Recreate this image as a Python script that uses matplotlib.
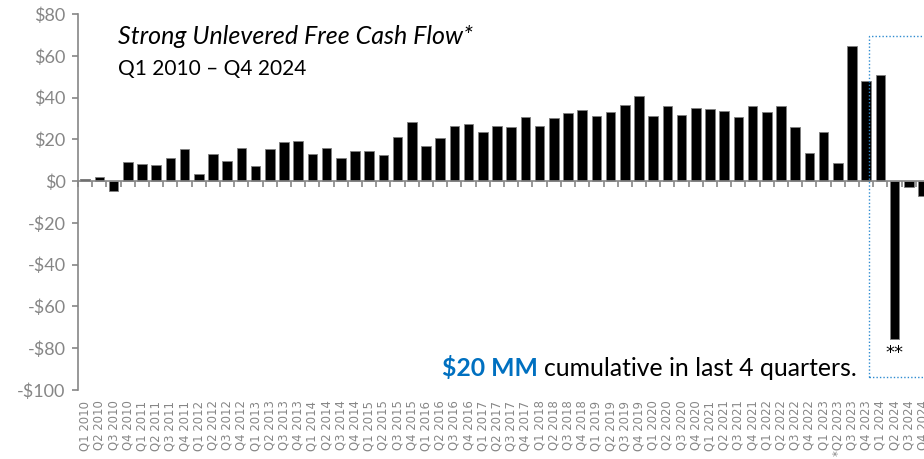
import matplotlib.pyplot as plt
from matplotlib.patches import Rectangle
import numpy as np

# ---- data ----
quarters = [f"Q{q} {y}" for y in range(2010, 2025) for q in range(1, 5)]
quarters[53] = "*Q2 2023"

fcf = [
    1.2, 2.0, -4.7, 9.0, 8.4, 7.9, 11.2, 15.4, 3.3, 13.0,
    9.4, 16.0, 7.2, 15.2, 18.8, 19.3, 13.2, 15.8, 10.9, 14.5,
    14.4, 12.7, 21.2, 28.1, 16.8, 20.8, 26.3, 27.4, 23.3, 26.5,
    26.0, 30.6, 26.6, 30.0, 32.7, 34.2, 31.4, 33.3, 36.5, 40.9,
    31.3, 36.0, 31.8, 35.1, 34.5, 33.8, 30.8, 35.8, 33.2, 36.0,
    26.0, 13.4, 23.6, 8.8, 64.5, 48.1, 51.0, -75.8, -2.7, -6.9,
]

y_ticks = list(range(-100, 81, 20))

GRAY = "#868686"
BLUE = "#0070C0"

W, H = 924, 459
fig = plt.figure(figsize=(W / 100, H / 100), dpi=100)
# axes run past the right edge on purpose (last bar is cut off in the source)
ax = fig.add_axes([78.1 / W, (H - 390) / H, 852 / W, 376 / H])

x = np.arange(len(fcf))
ax.bar(x, fcf, width=0.67, color="black", edgecolor="#7f7f7f", linewidth=0.6, zorder=3)

ax.set_xlim(-0.5, len(fcf) - 0.5)
ax.set_ylim(-100, 80)

# y axis
ax.set_yticks(y_ticks)
ax.set_yticklabels([f"${v}" if v >= 0 else f"-${-v}" for v in y_ticks],
                   fontsize=13, color=GRAY, family="Lato")
ax.tick_params(axis="y", length=4, width=1.2, color=GRAY, pad=5)
ax.spines["left"].set_color(GRAY)
ax.spines["left"].set_linewidth(1.2)

# x axis line at zero, ticks between categories, labels at bottom
ax.spines["bottom"].set_position(("data", 0))
ax.spines["bottom"].set_color(GRAY)
ax.spines["bottom"].set_linewidth(1.2)
ax.spines["bottom"].set_zorder(4)
ax.spines["top"].set_visible(False)
ax.spines["right"].set_visible(False)

ax.set_xticks(x)
ax.set_xticklabels(quarters, rotation=90, fontsize=8.4, color=GRAY, family="DejaVu Sans")
ax.tick_params(axis="x", which="major", length=0, pad=158)
ax.set_xticks(np.arange(-0.5, len(fcf), 1), minor=True)
ax.tick_params(axis="x", which="minor", length=4, width=1.2, color=GRAY, direction="out")

# dotted box around last 4 quarters
ax.add_patch(Rectangle((55.2, -93.8), 6.0, 163.2, fill=False, edgecolor="#2e8bd0",
                       linestyle=(0, (1, 1.5)), linewidth=1.0, clip_on=False, zorder=5))

ax.text(57, -78, "**", ha="center", va="top", fontsize=13, family="DejaVu Sans")

# annotations
fig.text(118 / W, 1 - 36 / H, "Strong Unlevered Free Cash Flow*", style="italic",
         fontsize=18, family="Lato", va="center", ha="left")
fig.text(118 / W, 1 - 69 / H, "Q1 2010 \u2013 Q4 2024",
         fontsize=15, family="Lato", va="center", ha="left")

t1 = fig.text(442 / W, 1 - 368 / H, "$20 MM", color=BLUE, fontweight="bold",
              fontsize=17.8, family="Lato", va="center", ha="left")
fig.canvas.draw()
bb = t1.get_window_extent()
fig.text((bb.x1 + 6) / W, 1 - 368 / H, "cumulative in last 4 quarters.",
         fontsize=17.8, family="Lato", va="center", ha="left")

plt.savefig("out.png", dpi=100)
plt.close()
